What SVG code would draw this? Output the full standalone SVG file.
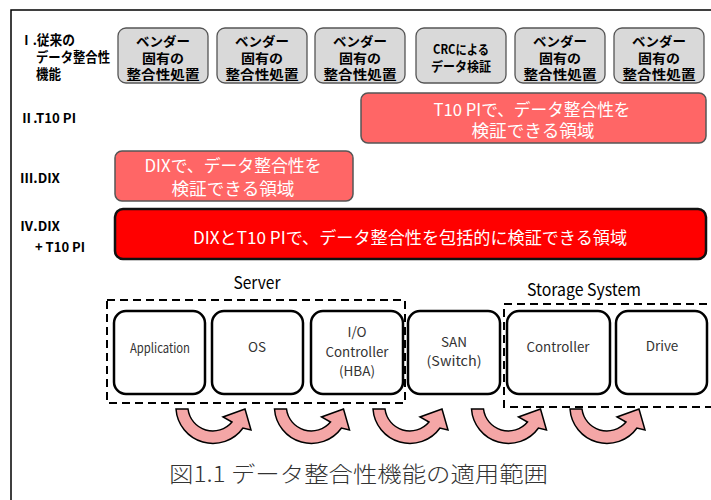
<svg xmlns="http://www.w3.org/2000/svg" xmlns:xlink="http://www.w3.org/1999/xlink" width="711" height="500" viewBox="0 0 711 500">
<style>
text{font-family:"Noto Sans CJK JP","DejaVu Sans",sans-serif;}
.lbl{font-size:13.5px;font-weight:bold;fill:#000;}
.vb{fill:#d9d9d9;stroke:#555;stroke-width:1.3;}
.vt{font-size:13px;font-weight:bold;fill:#000;text-anchor:middle;}
.pb{fill:#ff6666;stroke:#555;stroke-width:1.5;}
.wt{font-size:17px;fill:#fff;text-anchor:middle;}
.nd{fill:#fff;stroke:#000;stroke-width:2.5;}
.nt{font-size:13.5px;fill:#333;text-anchor:middle;}
.dash{fill:none;stroke:#000;stroke-width:2;stroke-dasharray:8 5;}
.arr{fill:#f4a6a6;stroke:#000;stroke-width:1.5;stroke-linejoin:miter;}
.grp{font-size:17px;fill:#000;text-anchor:middle;}
</style>
<defs>
<path id="uarrow" class="arr" d="M176,409 A37,37 0 0 0 243,428 L251,430 L245,409 L223,417 L232,422 A25,25 0 0 1 188,409 Z"/>
</defs>
<rect width="711" height="500" fill="#fff"/>
<path d="M11,500 L11,10 L711,10" fill="none" stroke="#000" stroke-width="1.5"/>

<g id="row-labels">
<text class="lbl" x="20" y="45" textLength="55" lengthAdjust="spacingAndGlyphs">Ⅰ.従来の</text>
<text class="lbl" x="36" y="62" textLength="74" lengthAdjust="spacingAndGlyphs">データ整合性</text>
<text class="lbl" x="36" y="79" textLength="25" lengthAdjust="spacingAndGlyphs">機能</text>
<text class="lbl" x="20" y="123" textLength="56" lengthAdjust="spacingAndGlyphs">Ⅱ.T10 PI</text>
<text class="lbl" x="20" y="183" textLength="40" lengthAdjust="spacingAndGlyphs">Ⅲ.DIX</text>
<text class="lbl" x="20" y="231" textLength="40" lengthAdjust="spacingAndGlyphs">Ⅳ.DIX</text>
<text class="lbl" x="35" y="252" textLength="50" lengthAdjust="spacingAndGlyphs">+ T10 PI</text>
</g>

<g id="vendor1">
<rect class="vb" x="118" y="28" width="90" height="55" rx="8"/>
<text class="vt" x="163" y="46" textLength="54" lengthAdjust="spacingAndGlyphs">ベンダー</text>
<text class="vt" x="163" y="62.5" textLength="42" lengthAdjust="spacingAndGlyphs">固有の</text>
<text class="vt" x="163" y="79" textLength="73" lengthAdjust="spacingAndGlyphs">整合性処置</text>
</g>
<g id="vendor2">
<rect class="vb" x="217" y="28" width="90" height="55" rx="8"/>
<text class="vt" x="262" y="46" textLength="54" lengthAdjust="spacingAndGlyphs">ベンダー</text>
<text class="vt" x="262" y="62.5" textLength="42" lengthAdjust="spacingAndGlyphs">固有の</text>
<text class="vt" x="262" y="79" textLength="73" lengthAdjust="spacingAndGlyphs">整合性処置</text>
</g>
<g id="vendor3">
<rect class="vb" x="315" y="28" width="90" height="55" rx="8"/>
<text class="vt" x="360" y="46" textLength="54" lengthAdjust="spacingAndGlyphs">ベンダー</text>
<text class="vt" x="360" y="62.5" textLength="42" lengthAdjust="spacingAndGlyphs">固有の</text>
<text class="vt" x="360" y="79" textLength="73" lengthAdjust="spacingAndGlyphs">整合性処置</text>
</g>
<g id="crc">
<rect class="vb" x="416" y="28" width="90" height="55" rx="8"/>
<text class="vt" x="461" y="54" textLength="56" lengthAdjust="spacingAndGlyphs">CRCによる</text>
<text class="vt" x="461" y="71" textLength="60" lengthAdjust="spacingAndGlyphs">データ検証</text>
</g>
<g id="vendor5">
<rect class="vb" x="515" y="28" width="90" height="55" rx="8"/>
<text class="vt" x="560" y="46" textLength="54" lengthAdjust="spacingAndGlyphs">ベンダー</text>
<text class="vt" x="560" y="62.5" textLength="42" lengthAdjust="spacingAndGlyphs">固有の</text>
<text class="vt" x="560" y="79" textLength="73" lengthAdjust="spacingAndGlyphs">整合性処置</text>
</g>
<g id="vendor6">
<rect class="vb" x="614" y="28" width="90" height="55" rx="8"/>
<text class="vt" x="659" y="46" textLength="54" lengthAdjust="spacingAndGlyphs">ベンダー</text>
<text class="vt" x="659" y="62.5" textLength="42" lengthAdjust="spacingAndGlyphs">固有の</text>
<text class="vt" x="659" y="79" textLength="73" lengthAdjust="spacingAndGlyphs">整合性処置</text>
</g>

<g id="t10pi">
<rect class="pb" x="361" y="93" width="345" height="50" rx="7"/>
<text class="wt" x="532" y="116" textLength="197" lengthAdjust="spacingAndGlyphs">T10 PIで、データ整合性を</text>
<text class="wt" x="533" y="137" textLength="123" lengthAdjust="spacingAndGlyphs">検証できる領域</text>
</g>
<g id="dix">
<rect class="pb" x="115" y="151" width="238" height="50" rx="7"/>
<text class="wt" x="233" y="172" textLength="177" lengthAdjust="spacingAndGlyphs">DIXで、データ整合性を</text>
<text class="wt" x="233" y="195" textLength="123" lengthAdjust="spacingAndGlyphs">検証できる領域</text>
</g>
<g id="dix-t10pi">
<rect x="115" y="209" width="591" height="50" rx="8" fill="#ff0000" stroke="#111" stroke-width="2.5"/>
<text class="wt" x="410" y="244" font-size="18" textLength="434" lengthAdjust="spacingAndGlyphs">DIXとT10 PIで、データ整合性を包括的に検証できる領域</text>
</g>

<g id="server-group">
<rect class="dash" x="107" y="300" width="298" height="103"/>
<text class="grp" x="257" y="289" textLength="47" lengthAdjust="spacingAndGlyphs">Server</text>
</g>
<g id="storage-group">
<path class="dash" d="M720,304 L504,304 L504,407 L720,407"/>
<text class="grp" x="584" y="296" textLength="114" lengthAdjust="spacingAndGlyphs">Storage System</text>
</g>

<g id="application">
<rect class="nd" x="114" y="311" width="91" height="83" rx="12"/>
<text class="nt" x="160" y="353" textLength="60" lengthAdjust="spacingAndGlyphs">Application</text>
</g>
<g id="os">
<rect class="nd" x="212" y="311" width="91" height="83" rx="12"/>
<text class="nt" x="257" y="352">OS</text>
</g>
<g id="io-controller">
<rect class="nd" x="311" y="311" width="92" height="83" rx="12"/>
<text class="nt" x="357" y="337">I/O</text>
<text class="nt" x="357" y="357" textLength="63" lengthAdjust="spacingAndGlyphs">Controller</text>
<text class="nt" x="357" y="376">(HBA)</text>
</g>
<g id="san">
<rect class="nd" x="408" y="311" width="92" height="83" rx="12"/>
<text class="nt" x="454" y="347">SAN</text>
<text class="nt" x="454" y="366" textLength="55" lengthAdjust="spacingAndGlyphs">(Switch)</text>
</g>
<g id="controller">
<rect class="nd" x="507" y="311" width="103" height="83" rx="12"/>
<text class="nt" x="558" y="352" textLength="63" lengthAdjust="spacingAndGlyphs">Controller</text>
</g>
<g id="drive">
<rect class="nd" x="616" y="311" width="91" height="83" rx="12"/>
<text class="nt" x="662" y="351">Drive</text>
</g>

<g id="connectors">
<use xlink:href="#uarrow"/>
<use xlink:href="#uarrow" transform="translate(98.5,0)"/>
<use xlink:href="#uarrow" transform="translate(197,0)"/>
<use xlink:href="#uarrow" transform="translate(295.5,0)"/>
<use xlink:href="#uarrow" transform="translate(394,0)"/>
</g>

<text x="169" y="482" font-size="22" font-weight="300" fill="#333" textLength="379" lengthAdjust="spacingAndGlyphs">図1.1 データ整合性機能の適用範囲</text>
</svg>
